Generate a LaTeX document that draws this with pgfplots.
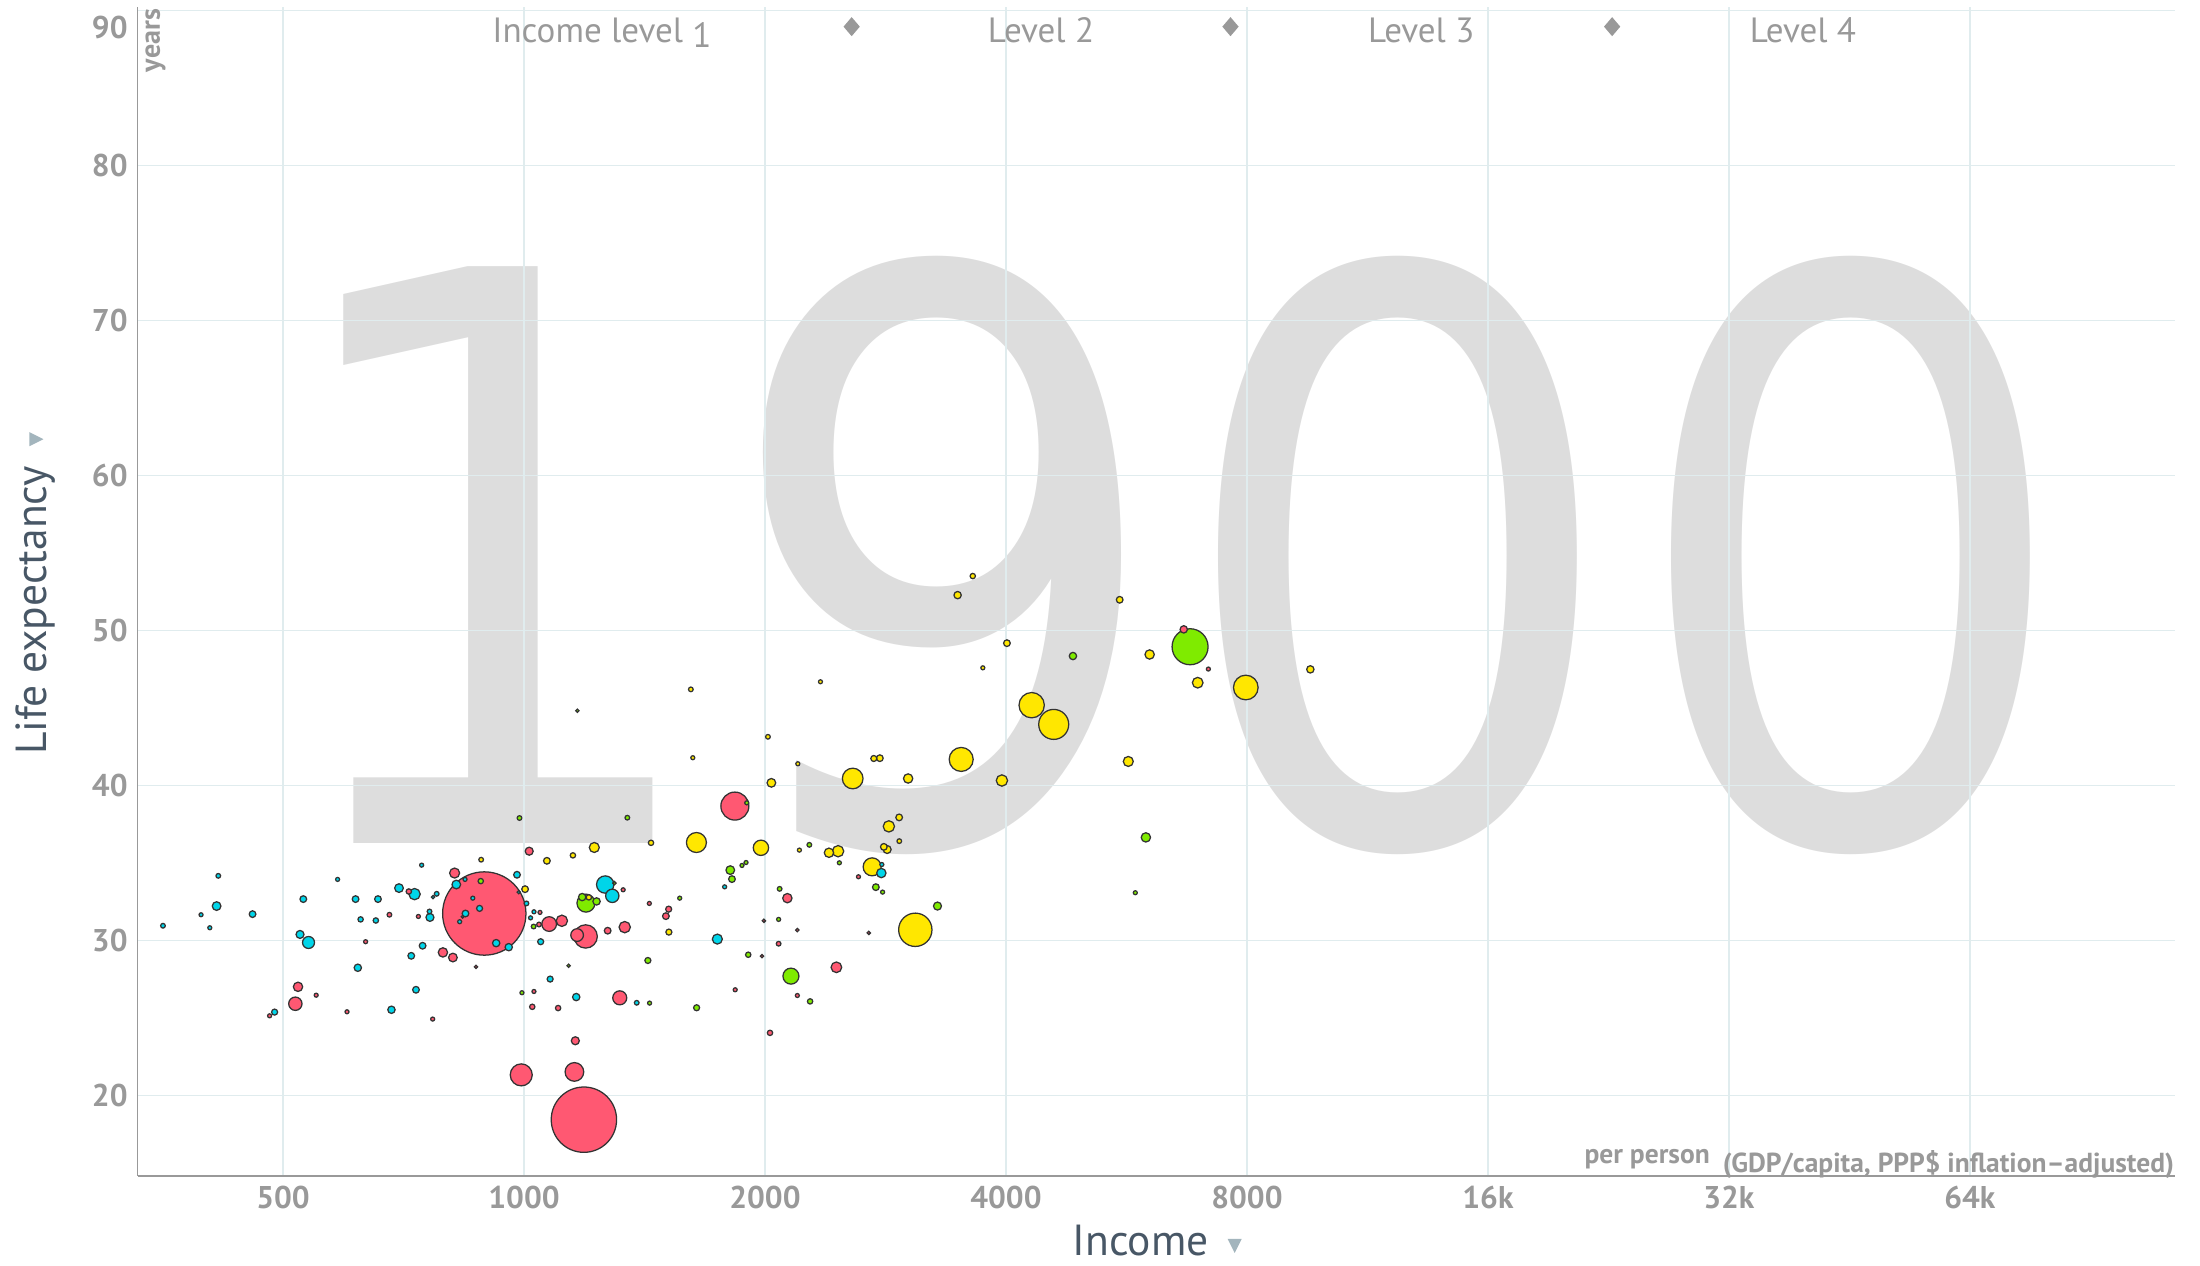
\documentclass[border=0pt]{standalone}
\usepackage{fontspec}
\setmainfont{PT Sans}
\newfontfamily\dejavu{DejaVu Sans}
\usepackage{pgfplots}
\pgfplotsset{compat=1.18}
\definecolor{redc}{HTML}{FF5872}
\definecolor{cyanc}{HTML}{00D5E9}
\definecolor{greenc}{HTML}{7FEB00}
\definecolor{yellowc}{HTML}{FFE700}
\definecolor{edgec}{HTML}{333333}
\definecolor{gridc}{HTML}{E0ECEE}
\definecolor{tickc}{HTML}{999999}
\definecolor{labc}{HTML}{485766}
\definecolor{bigc}{HTML}{DDDDDD}
\definecolor{triac}{HTML}{A3B5BD}
\begin{document}
\begin{tikzpicture}
\path[use as bounding box] (0,0) rectangle (784pt,451pt);
\node[anchor=base, text=bigc, xscale=0.9, inner sep=0pt] at (417.5pt,150.5pt) {\dejavu\fontsize{282}{282}\selectfont 1900};
\begin{axis}[
  at={(49pt,32pt)}, anchor=south west,
  scale only axis, width=726pt, height=416.5pt,
  xmode=log, log basis x=2,
  xmin=329, xmax=115400, ymin=14.84, ymax=90.24,
  axis lines=left,
  axis line style={-, draw=tickc, line width=0.6pt},
  grid=major,
  major grid style={draw=gridc, line width=0.5pt},
  major tick length=0pt,
  xtick={500,1000,2000,4000,8000,16000,32000,64000},
  xticklabels={500,1000,2000,4000,8000,16k,32k,64k},
  ytick={20,30,40,50,60,70,80,90},
  yticklabels={20,30,40,50,60,70,80,{\vphantom{9}\smash{\raisebox{-6pt}{90}}}},
  tick label style={font=\bfseries\fontsize{11.2}{13}\selectfont, text=tickc},
  /pgf/number format/assume math mode=true,
  clip=false,
]
\addplot[scatter, only marks, mark=*,
  scatter src=explicit symbolic,
  scatter/classes={r={fill=redc}, b={fill=cyanc}, g={fill=greenc}, y={fill=yellowc}},
  mark options={draw=edgec, line width=0.45pt},
  visualization depends on={0.1188*\thisrow{r} \as \rad},
  scatter/@pre marker code/.append style={/tikz/mark size=\rad pt},
] table[x=x, y=y, meta=c] {
x y r c
892 31.76 125 r
1188 18.46 98 r
6793 48.97 54 g
3082 30.71 50 y
4589 43.96 45 y
1834 38.69 42 r
4307 45.20 38 y
7975 46.34 37 y
3517 41.70 36 y
1194 30.28 35 r
992 21.35 33 r
2574 40.47 31 y
1642 36.34 30 y
1156 21.54 28 r
1195 32.43 27 g
2722 34.77 27 y
1263 33.63 26 b
2155 27.72 24 g
1977 36.00 23 y
1075 31.08 22 r
1317 26.32 21 r
518 25.94 20 r
1289 32.90 20 b
1165 30.37 19 r
538 29.89 18 b
730 33.01 17 b
1115 31.29 17 r
1336 30.88 17 r
3954 40.34 17 y
2856 37.38 17 y
2468 35.78 17 y
2456 28.29 16 r
6944 46.65 16 y
819 34.37 15 r
1224 36.02 15 y
1744 30.11 15 b
5687 41.57 15 y
522 27.03 14 r
792 29.25 14 r
2133 32.75 14 r
3019 40.47 14 y
2404 35.68 14 y
2795 34.37 14 b
6047 48.47 14 y
5982 36.67 14 g
413 32.24 13 b
698 33.40 13 b
815 28.92 13 r
823 33.63 13 b
1810 34.56 13 g
2037 40.19 13 y
525 30.41 12 b
763 31.51 12 b
1015 35.78 12 r
1159 23.55 12 r
2842 35.89 12 y
3285 32.24 12 g
620 28.26 11 b
683 25.55 11 b
923 29.85 11 b
957 29.59 11 b
1182 32.82 11 g
1232 32.54 11 g
1162 26.37 11 b
4850 48.37 11 g
3481 52.30 11 y
6671 50.09 11 r
9601 47.51 11 y
458 31.72 10 b
530 32.69 10 b
616 32.69 10 b
657 32.69 10 b
747 29.68 10 b
723 29.03 10 b
733 26.84 10 b
845 31.76 10 b
980 34.26 10 b
1003 33.33 10 y
1068 35.16 10 y
1272 30.65 10 r
1504 31.59 10 r
1819 33.98 10 g
2783 41.78 10 y
4011 49.20 10 y
2942 37.96 10 y
2815 36.06 10 y
2751 33.46 10 g
5548 52.00 10 y
488 25.40 9 b
880 32.09 9 b
1049 29.94 9 b
1516 32.04 9 r
1517 30.56 9 y
1078 27.53 9 b
1428 28.73 9 g
1643 25.68 9 g
2735 41.76 9 y
625 31.38 8 b
653 31.31 8 b
718 33.18 8 r
883 33.85 8 g
1151 35.51 8 y
1441 36.32 8 y
1205 32.80 8 y
1024 25.74 8 r
1103 25.66 8 r
1906 29.10 8 g
2277 26.09 8 g
2029 24.06 8 r
3636 53.53 8 y
354 30.97 7 b
415 34.19 7 b
679 31.68 7 r
762 31.89 7 b
778 33.03 7 b
884 35.23 7 y
1007 32.41 7 b
2272 36.19 7 g
1044 31.05 7 r
1028 30.92 7 g
1383 26.00 7 b
2086 33.35 7 g
2080 29.81 7 r
1616 46.22 7 y
2017 43.16 7 y
2943 36.43 7 y
987 37.92 7 g
1346 37.94 7 g
395 31.68 6 b
405 30.84 6 b
481 25.16 6 r
550 26.49 6 r
585 33.96 6 b
634 29.94 6 r
601 25.42 6 r
745 34.88 6 b
738 31.57 6 r
769 24.95 6 r
844 33.96 6 b
863 32.75 6 b
831 31.23 6 b
994 26.65 6 g
2208 35.85 6 y
1029 31.87 6 b
1047 31.83 6 r
1019 31.48 6 b
1330 33.29 6 r
1434 32.41 6 r
1565 32.75 6 g
1029 26.73 6 r
1435 25.98 6 g
1872 34.86 6 g
1894 35.05 6 g
1781 33.48 6 b
2080 31.38 6 g
2195 26.47 6 r
1836 26.84 6 r
1625 41.81 6 y
2346 46.71 6 y
2198 41.42 6 y
1898 38.90 6 g
3743 47.61 6 y
2477 35.03 6 g
2799 34.92 6 b
2617 34.13 6 r
2805 33.14 6 g
7161 47.53 6 r
5803 33.10 6 g
770 32.82 5 b
871 28.32 5 r
985 33.14 5 b
1297 33.72 5 g
1137 28.39 5 g
1983 29.01 5 r
1994 31.29 5 r
2195 30.69 5 r
2696 30.51 5 r
1166 44.84 5 g
838 31.55 4 r
};
\end{axis}
% legend at top
\begin{scope}[every node/.style={text=tickc, inner sep=0pt, font=\fontsize{12.5}{14}\selectfont}]
\node[anchor=base] at (214.5pt,436pt) {Income level \raisebox{-2pt}{1}};
\node[anchor=base] at (371pt,436pt) {Level 2};
\node[anchor=base] at (506.5pt,436pt) {Level 3};
\node[anchor=base] at (642.5pt,436pt) {Level 4};
\end{scope}
\foreach \dx in {303.5pt,438.5pt,574.5pt}{
  \fill[tickc] ([xshift=\dx]0,441.5pt) +(0,3.4pt) -- +(2.9pt,0) -- +(0,-3.4pt) -- +(-2.9pt,0) -- cycle;
}
% years
\node[rotate=90, anchor=base east, inner sep=0pt, text=tickc, font=\bfseries\fontsize{10}{11}\selectfont] at (57pt,448pt) {years};
% y label
\node[rotate=90, anchor=base, inner sep=0pt, text=labc, font=\fontsize{15.5}{17}\selectfont] at (16.5pt,233.5pt) {Life expectancy};
\fill[triac] (10.5pt,292pt) -- (15.5pt,294.5pt) -- (10.5pt,297pt) -- cycle;
% x label
\node[anchor=base, inner sep=0pt, text=labc, font=\fontsize{15.5}{17}\selectfont] at (406.5pt,3.5pt) {Income};
\fill[triac] (437.5pt,9.5pt) -- (442.5pt,9.5pt) -- (440pt,4.5pt) -- cycle;
% unit texts
\node[anchor=base east, inner sep=0pt, text=tickc, font=\bfseries\fontsize{9.8}{11}\selectfont] at (609.5pt,36.5pt) {per person};
\node[anchor=base east, inner sep=0pt, text=tickc, font=\bfseries\fontsize{9.8}{11}\selectfont] at (775pt,33pt) {(GDP/capita, PPP\$ inflation–adjusted)};
\end{tikzpicture}
\end{document}
